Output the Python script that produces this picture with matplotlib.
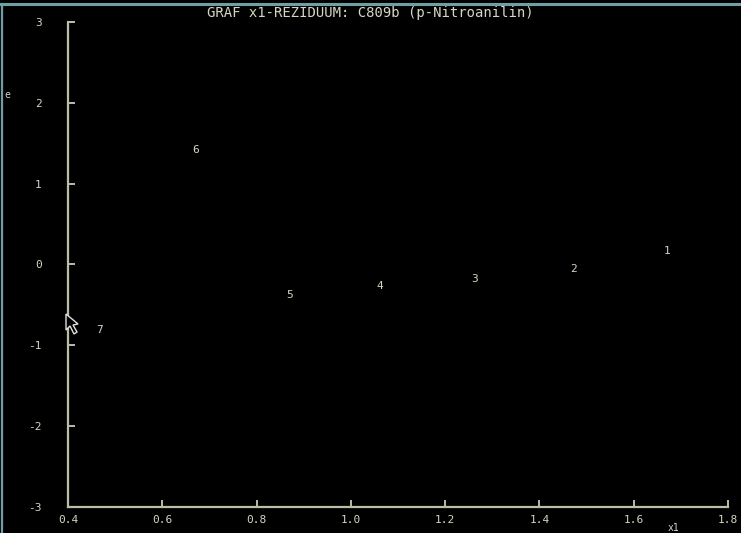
import matplotlib.pyplot as plt
from matplotlib.patches import Polygon
from matplotlib.lines import Line2D

# residuals e against x1, each point labelled by its number
point_ids = ["1", "2", "3", "4", "5", "6", "7"]
x1 = [1.671, 1.473, 1.263, 1.061, 0.870, 0.671, 0.467]
e = [0.17, -0.06, -0.185, -0.26, -0.38, 1.42, -0.81]

x_ticks = [0.4, 0.6, 0.8, 1.0, 1.2, 1.4, 1.6, 1.8]
y_ticks = [-3, -2, -1, 0, 1, 2, 3]

fg = "#d6d6c4"
axis_col = "#bdbda6"
frame_col = "#6f9ea4"
mono = "DejaVu Sans Mono"

fig = plt.figure(figsize=(7.41, 5.33), dpi=100, facecolor="black")
ax = fig.add_axes([68 / 741, 1 - 507 / 533, 660 / 741, 485 / 533])
ax.set_facecolor("black")

for xv, yv, lab in zip(x1, e, point_ids):
    ax.text(xv, yv, lab, color=fg, fontsize=8, family=mono,
            ha="center", va="center")

ax.set_xlim(0.4, 1.8)
ax.set_ylim(-3, 3)
ax.set_xticks(x_ticks)
ax.set_xticklabels(["%.1f" % v for v in x_ticks])
ax.set_yticks(y_ticks)
ax.set_yticklabels([str(v) for v in y_ticks])

for side in ["top", "right"]:
    ax.spines[side].set_visible(False)
for side in ["left", "bottom"]:
    ax.spines[side].set_color(axis_col)
    ax.spines[side].set_linewidth(1.6)

ax.tick_params(axis="both", direction="in", length=5, width=1.4,
               color=axis_col, labelcolor=fg, labelsize=8)
ax.tick_params(axis="y", pad=19)
ax.tick_params(axis="x", pad=6)
for t in ax.get_xticklabels() + ax.get_yticklabels():
    t.set_family(mono)

# small closing ticks at the far ends of both axes
ax.plot([0.4, 0.4 + 5 / 660 * 1.4], [3, 3], color=axis_col, lw=1.4,
        clip_on=False)
ax.plot([1.8, 1.8], [-3, -3 + 5 / 485 * 6], color=axis_col, lw=1.4,
        clip_on=False)

fig.text(370 / 741, 1 - 13 / 533, "GRAF x1-REZIDUUM: C809b (p-Nitroanilin)",
         color=fg, fontsize=10, family=mono, ha="center", va="center")
fig.text(7 / 741, 1 - 95 / 533, "e", color=fg, fontsize=7, family=mono,
         ha="center", va="center")
fig.text(674 / 741, 1 - 528 / 533, "x1", color=fg, fontsize=7, family=mono,
         ha="center", va="center")

# window frame lines on top and left
fig.add_artist(Line2D([0, 1], [1 - 4 / 533, 1 - 4 / 533], color=frame_col,
                      lw=2.2, transform=fig.transFigure))
fig.add_artist(Line2D([2 / 741, 2 / 741], [0, 1 - 4 / 533],
                      color=frame_col, lw=1.6, transform=fig.transFigure))

# mouse pointer
cursor = [(66, 314), (66, 330), (70, 326), (74, 334), (77, 332), (73, 325),
          (78, 324)]
cursor = [(px / 741, 1 - py / 533) for px, py in cursor]
fig.add_artist(Polygon(cursor, closed=True, facecolor="black",
                       edgecolor="#e0e0e0", lw=1.0,
                       transform=fig.transFigure))

fig.savefig("out.png", dpi=100, facecolor="black")
